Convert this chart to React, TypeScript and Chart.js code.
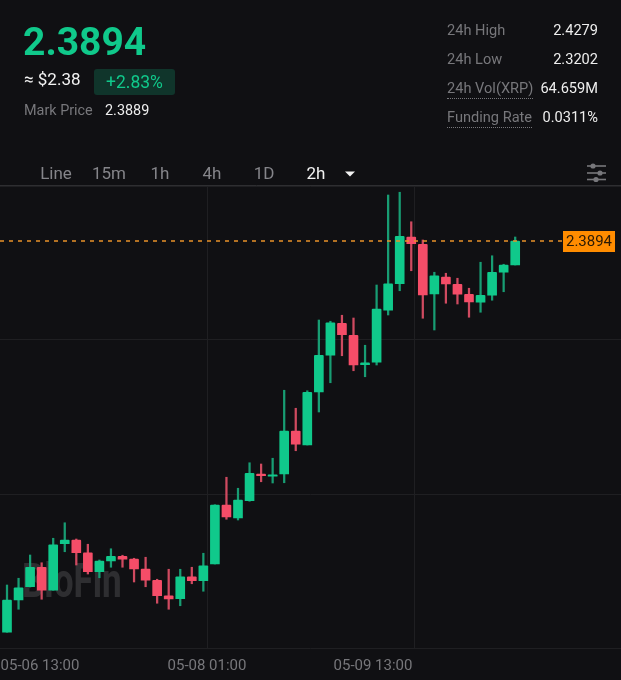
import React, { useEffect, useRef } from "react";
import { Chart, registerables } from "chart.js";

Chart.register(...registerables);

const opens = [2.0764,2.1022,2.1128,2.1284,2.11,2.1472,2.1502,2.14,2.1248,2.1334,2.1372,2.135,2.127,2.118,2.1056,2.1032,2.1208,2.1176,2.131,2.1782,2.1678,2.1816,2.203,2.2012,2.203,2.2374,2.2262,2.2686,2.298,2.3236,2.314,2.2904,2.2924,2.334,2.3552,2.3926,2.3868,2.347,2.3606,2.3548,2.3468,2.3404,2.346,2.3644,2.3702];
const closes = [2.1022,2.112,2.1284,2.11,2.1464,2.1502,2.14,2.1248,2.1334,2.1372,2.1348,2.127,2.118,2.1056,2.103,2.1208,2.1176,2.1296,2.1782,2.1686,2.1822,2.2036,2.2016,2.2024,2.2374,2.2268,2.2684,2.298,2.324,2.3144,2.2902,2.292,2.335,2.3552,2.3932,2.3872,2.3462,2.3616,2.355,2.3468,2.3406,2.346,2.3644,2.3702,2.3894];
const highs = [2.1142,2.1196,2.1382,2.132,2.1516,2.164,2.151,2.1468,2.1342,2.1432,2.138,2.1356,2.1364,2.1188,2.1268,2.1268,2.1284,2.1396,2.1784,2.2004,2.1916,2.212,2.211,2.2156,2.27,2.2556,2.2696,2.3262,2.3252,2.33,2.3278,2.306,2.3542,2.4262,2.4284,2.4048,2.3902,2.3644,2.3636,2.3596,2.3516,2.3724,2.3776,2.3708,2.3926];
const lows = [2.0764,2.0948,2.1126,2.1028,2.11,2.1408,2.1302,2.123,2.12,2.1284,2.1284,2.1166,2.1128,2.0996,2.0948,2.0976,2.1152,2.1092,2.131,2.1668,2.1662,2.1812,2.1968,2.1958,2.196,2.2216,2.2262,2.2526,2.276,2.2976,2.2856,2.2808,2.2902,2.3302,2.3496,2.3656,2.3276,2.3182,2.3396,2.339,2.3284,2.3324,2.342,2.3488,2.3702];

const lastPrice = 2.3894;
const xTickLabels = ["05-06 13:00", "05-08 01:00", "05-09 13:00"];
const xTickValues = [2.857, 17.316, 31.688];
const xGridValues = [17.316, 35.24];
const yGridValues = [2.4334, 2.3102, 2.187, 2.0638];

const BG = "#101013";
const GREEN = "#10c98b";
const RED = "#f54d68";
const GREEN_WICK = "#189d73";
const RED_WICK = "#cf4a60";
const GRID = "#1f1f22";
const FONT = "Roboto, 'Noto Sans', sans-serif";

const topLeftStats = [
  { label: "24h High", value: "2.4279", top: 21, dotted: false },
  { label: "24h Low", value: "2.3202", top: 50, dotted: false },
  { label: "24h Vol(XRP)", value: "64.659M", top: 79, dotted: true },
  { label: "Funding Rate", value: "0.0311%", top: 108, dotted: true },
];
const tabs = [
  { label: "Line", center: 56 },
  { label: "15m", center: 109 },
  { label: "1h", center: 160 },
  { label: "4h", center: 212 },
  { label: "1D", center: 264 },
  { label: "2h", center: 316, active: true },
];

const overlayPlugin = {
  id: "overlay",
  beforeDatasetsDraw(chart: any) {
    const { ctx } = chart;
    ctx.save();
    ctx.fillStyle = "rgba(255,255,255,0.13)";
    ctx.font = `700 48px ${FONT}`;
    ctx.textBaseline = "alphabetic";
    ctx.textAlign = "left";
    ctx.translate(22, 597);
    ctx.scale(0.73, 1);
    ctx.fillText("BloFin", 0, 0);
    ctx.restore();
  },
  afterDatasetsDraw(chart: any) {
    const { ctx, scales, chartArea } = chart;
    const y = scales.y.getPixelForValue(lastPrice);
    ctx.save();
    ctx.strokeStyle = "#e8912a";
    ctx.lineWidth = 1.4;
    ctx.setLineDash([4, 5]);
    ctx.beginPath();
    ctx.moveTo(chartArea.left, y);
    ctx.lineTo(563, y);
    ctx.stroke();
    ctx.setLineDash([]);
    ctx.fillStyle = "#ff8c00";
    ctx.fillRect(563, y - 10, 52, 21);
    ctx.fillStyle = "#2a1a05";
    ctx.font = `400 15px ${FONT}`;
    ctx.textAlign = "center";
    ctx.textBaseline = "middle";
    ctx.fillText(lastPrice.toFixed(4), 589, y + 1);
    ctx.restore();
  },
};

export default function App() {
  const ref = useRef<HTMLCanvasElement | null>(null);

  useEffect(() => {
    document.body.style.margin = "0";
    document.body.style.background = BG;
    const idx = opens.map((_, i) => i);
    const up = opens.map((o, i) => closes[i] >= o);
    const chart = new Chart(ref.current as HTMLCanvasElement, {
      type: "bar",
      plugins: [overlayPlugin],
      data: {
        datasets: [
          {
            label: "Body",
            data: idx.map((i) => ({ x: i, y: [opens[i], closes[i]] })) as any,
            backgroundColor: up.map((u) => (u ? GREEN : RED)),
            barThickness: 9,
            grouped: false,
            borderRadius: 1,
          } as any,
          {
            label: "Wick",
            data: idx.map((i) => ({ x: i, y: [lows[i], highs[i]] })) as any,
            backgroundColor: up.map((u) => (u ? GREEN_WICK : RED_WICK)),
            barThickness: 1.6,
            grouped: false,
          } as any,
        ],
      },
      options: {
        animation: false,
        responsive: false,
        devicePixelRatio: 1,
        layout: { padding: { top: 186, left: 0, right: 0, bottom: 0 } },
        plugins: { legend: { display: false }, tooltip: { enabled: false } },
        scales: {
          x: {
            type: "linear",
            offset: false,
            min: -0.606,
            max: 53.16,
            grid: { display: false, offset: false },
            border: { display: false },
            ticks: {
              autoSkip: false,
              maxRotation: 0,
              color: "#77777b",
              padding: 1,
              font: { family: FONT, size: 15 },
              callback: (_v: any, i: number) => xTickLabels[i],
            },
            afterBuildTicks: (s: any) => {
              s.ticks = xTickValues.map((value) => ({ value }));
            },
            afterFit: (s: any) => {
              s.height = 32;
              s.paddingLeft = 0;
              s.paddingRight = 0;
            },
          },
          x2: {
            type: "linear",
            position: "top",
            offset: false,
            min: -0.606,
            max: 53.16,
            grid: { color: GRID, lineWidth: 1, drawTicks: false, offset: false },
            border: { display: false },
            ticks: { display: false },
            afterBuildTicks: (s: any) => {
              s.ticks = xGridValues.map((value) => ({ value }));
            },
            afterFit: (s: any) => {
              s.height = 0;
            },
          },
          y: {
            type: "linear",
            min: 2.0638,
            max: 2.4334,
            grid: { color: GRID, lineWidth: 1, drawTicks: false },
            border: { display: false },
            ticks: { display: false },
            afterBuildTicks: (s: any) => {
              s.ticks = yGridValues.map((value) => ({ value }));
            },
            afterFit: (s: any) => {
              s.width = 0;
            },
          },
        },
      } as any,
    });
    return () => chart.destroy();
  }, []);

  const abs = (o: React.CSSProperties): React.CSSProperties => ({
    position: "absolute",
    whiteSpace: "nowrap",
    ...o,
  });

  return (
    <div style={{ position: "absolute", left: 0, top: 0, width: 621, height: 680, background: BG, overflow: "hidden", fontFamily: FONT }}>
      <canvas ref={ref} width={621} height={680} style={{ position: "absolute", left: 0, top: 0, display: "block" }} />
      <div style={abs({ left: 23, top: 19, fontSize: 39, lineHeight: "46px", fontWeight: 700, color: GREEN })}>2.3894</div>
      <div style={abs({ left: 24, top: 68, fontSize: 17, lineHeight: "22px", color: "#f2f2f2" })}>≈ $2.38</div>
      <div style={abs({ left: 94, top: 69, width: 81, height: 26, borderRadius: 3, background: "#10352b", color: GREEN, fontSize: 17.5, lineHeight: "26px", textAlign: "center" })}>+2.83%</div>
      <div style={abs({ left: 24, top: 102, fontSize: 14.4, lineHeight: "18px", color: "#77777b" })}>Mark Price</div>
      <div style={abs({ left: 105, top: 102, fontSize: 14.4, lineHeight: "18px", color: "#eeeeee" })}>2.3889</div>
      {topLeftStats.map((s) => (
        <React.Fragment key={s.label}>
          <div style={abs({ left: 447, top: s.top, fontSize: 14.6, lineHeight: "19px", color: "#77777b", borderBottom: s.dotted ? "1px dotted #77777b" : undefined })}>{s.label}</div>
          <div style={abs({ right: 23, top: s.top, fontSize: 14.6, lineHeight: "19px", color: "#eeeeee" })}>{s.value}</div>
        </React.Fragment>
      ))}
      {tabs.map((t) => (
        <div key={t.label} style={abs({ left: t.center - 30, width: 60, top: 163, textAlign: "center", fontSize: 17, lineHeight: "20px", color: t.active ? "#f2f2f2" : "#85858a" })}>{t.label}</div>
      ))}
      <svg width="621" height="186" style={{ position: "absolute", left: 0, top: 0, pointerEvents: "none" }}>
        <path d="M345 171.5 L355 171.5 L350 176.5 Z" fill="#f2f2f2" />
        <g stroke="#77777b" strokeWidth="1.6">
          <line x1="587" x2="606" y1="166" y2="166" />
          <line x1="587" x2="606" y1="173" y2="173" />
          <line x1="587" x2="606" y1="179.5" y2="179.5" />
        </g>
        <g fill="#77777b">
          <circle cx="593" cy="166" r="2.6" />
          <circle cx="600" cy="173" r="2.6" />
          <circle cx="596" cy="179.5" r="2.6" />
        </g>
        <line x1="0" x2="621" y1="185.5" y2="185.5" stroke="#2e2e31" strokeWidth="1" />
      </svg>
    </div>
  );
}
